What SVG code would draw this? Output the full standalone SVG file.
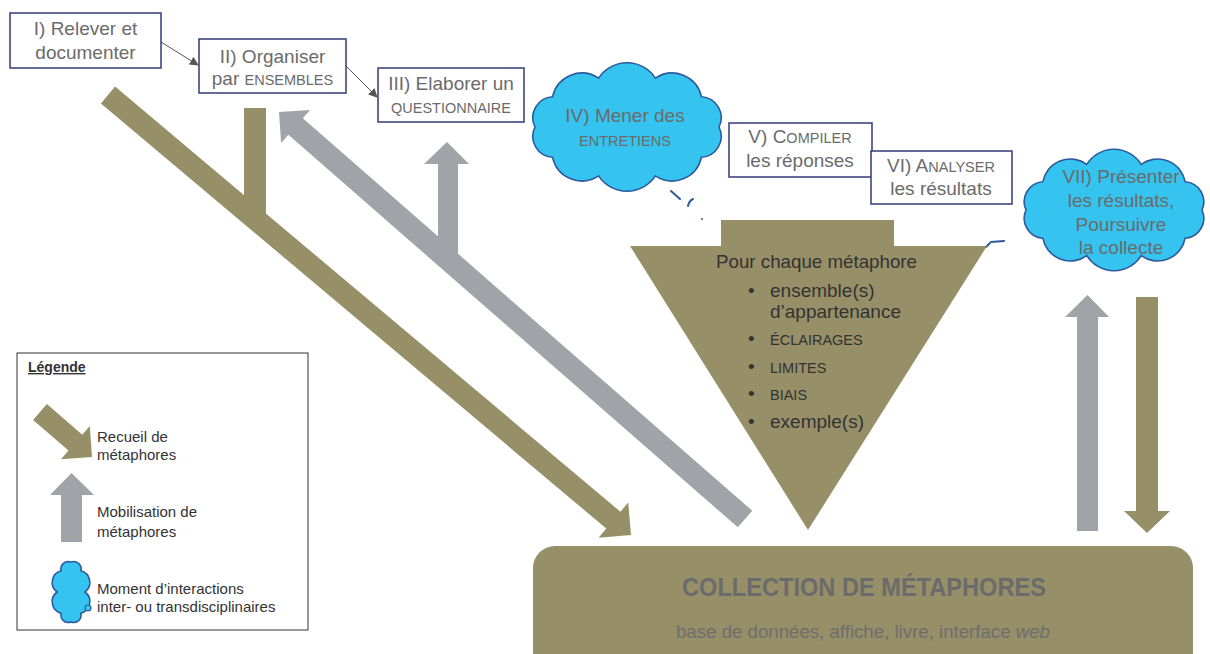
<svg xmlns="http://www.w3.org/2000/svg" width="1210" height="654" viewBox="0 0 1210 654">
<defs>
<style>
text{font-family:"Liberation Sans",Arial,sans-serif;}
.box{fill:#fff;stroke:#2f3b7a;stroke-width:1.5;}
.cloud{fill:#35c3ef;stroke:#2e5a9c;stroke-width:1.6;}
.t{font-size:19px;fill:#6b6b6b;text-anchor:middle;}
.olive{fill:#978f67;}
.grey{fill:#a0a3a8;}
.tri{font-size:19px;fill:#333;}
.leg{font-size:15px;fill:#333;}
.tail{fill:none;stroke:#2e5a9c;stroke-width:2;stroke-linecap:round;}
.conn{stroke:#555;stroke-width:1;fill:none;}
.sc{font-size:14.5px;}
</style>
<marker id="ah" viewBox="0 0 10 10" refX="9" refY="5" markerWidth="9" markerHeight="9" markerUnits="userSpaceOnUse" orient="auto"><path d="M0,0 L10,5 L0,10 Z" fill="#555"/></marker>
</defs>
<rect width="1210" height="654" fill="#fff"/>

<g id="connectors">
<line class="conn" x1="161" y1="42" x2="198" y2="65" marker-end="url(#ah)"/>
<line class="conn" x1="346" y1="66" x2="377" y2="97" marker-end="url(#ah)"/>
<path class="olive" d="M115.1,86.6 L620.5,511.8 L628.2,502.6 L631,535 L598.6,537.8 L606.3,528.6 L100.9,103.4 Z"/>
<rect class="olive" x="244" y="108" width="22" height="114"/>
<path class="grey" d="M279,112 L310.1,109.9 L302.8,118.2 L752.2,510.7 L737.8,527.3 L288.4,134.8 L281.1,143.1 Z"/>
<path class="grey" d="M447,142 L469,164 L458,164 L458,262 L438,262 L438,164 L424,164 Z"/>
<path class="grey" d="M1087.5,295 L1109,317 L1098,317 L1098,531 L1077,531 L1077,317 L1065,317 Z"/>
<path class="olive" d="M1136,297 L1158,297 L1158,511 L1170,511 L1147,533 L1124,511 L1136,511 Z"/>
<path class="tail" d="M671,191 L680,199"/>
<path class="tail" d="M688,206 Q689,201 693,199"/>
<circle cx="702" cy="219" r="1" fill="#2e5a9c"/>
<path class="tail" d="M991,242 L1004,241"/>
<path class="tail" d="M986,247 L990,243"/>
</g>

<g id="n1"><rect class="box" x="10" y="13" width="151" height="55"/>
<text class="t" x="85.5" y="35">I) Relever et</text>
<text class="t" x="85.5" y="59">documenter</text></g>

<g id="n2"><rect class="box" x="199" y="39" width="147" height="54"/>
<text class="t" x="272.5" y="63">II) Organiser</text>
<text class="t" x="272.5" y="85">par <tspan class="sc">ENSEMBLES</tspan></text></g>

<g id="n3"><rect class="box" x="378" y="68" width="146" height="54"/>
<text class="t" x="451" y="90">III) Elaborer un</text>
<text class="t sc" x="451" y="113">QUESTIONNAIRE</text></g>

<g id="n4"><path class="cloud" d="M719,127 A21,21 0 0 1 701.4,157.3 A30,30 0 0 1 655.4,175.9 A34,34 0 0 1 598.6,175.9 A30,30 0 0 1 552.6,157.3 A21,21 0 0 1 535,127 A21,21 0 0 1 552.6,96.7 A30,30 0 0 1 598.6,78.1 A34,34 0 0 1 655.4,78.1 A30,30 0 0 1 701.4,96.7 A21,21 0 0 1 719,127 Z"/>
<text class="t" x="625" y="122">IV) Mener des</text>
<text class="t sc" x="625" y="146">ENTRETIENS</text></g>

<g id="n5"><rect class="box" x="729" y="123" width="143" height="54"/>
<text class="t" x="800" y="143">V) C<tspan class="sc">OMPILER</tspan></text>
<text class="t" x="800" y="167">les réponses</text></g>

<g id="n6"><rect class="box" x="871" y="151" width="141" height="53"/>
<text class="t" x="941" y="172">VI) A<tspan class="sc">NALYSER</tspan></text>
<text class="t" x="941" y="195">les résultats</text></g>

<g id="n7"><path class="cloud" d="M1202,210 A20,20 0 0 1 1185.2,238.2 A28,28 0 0 1 1141.2,255.6 A32,32 0 0 1 1086.8,255.6 A28,28 0 0 1 1042.8,238.2 A20,20 0 0 1 1026,210 A20,20 0 0 1 1042.8,181.8 A28,28 0 0 1 1086.8,164.4 A32,32 0 0 1 1141.2,164.4 A28,28 0 0 1 1185.2,181.8 A20,20 0 0 1 1202,210 Z"/>
<text class="t" x="1121" y="183">VII) Présenter</text>
<text class="t" x="1121" y="207">les résultats,</text>
<text class="t" x="1121" y="231">Poursuivre</text>
<text class="t" x="1121" y="254">la collecte</text></g>

<g id="funnel"><path class="olive" d="M630,246 L721,246 L721,220 L894,220 L894,246 L987,246 L808,530 Z"/>
<text class="tri" x="716" y="268" textLength="201" lengthAdjust="spacingAndGlyphs">Pour chaque métaphore</text>
<text class="tri" x="748" y="297">•</text><text class="tri" x="770" y="297">ensemble(s)</text>
<text class="tri" x="770" y="318">d’appartenance</text>
<text class="tri" x="748" y="345">•</text><text class="tri sc" x="770" y="345">ÉCLAIRAGES</text>
<text class="tri" x="748" y="373">•</text><text class="tri sc" x="770" y="373">LIMITES</text>
<text class="tri" x="748" y="400">•</text><text class="tri sc" x="770" y="400">BIAIS</text>
<text class="tri" x="748" y="428">•</text><text class="tri" x="770" y="428">exemple(s)</text></g>

<g id="collection"><rect class="olive" x="533" y="546" width="660" height="130" rx="22"/>
<text x="864" y="596" font-size="25" font-weight="bold" fill="#6b6b6b" text-anchor="middle" textLength="364" lengthAdjust="spacingAndGlyphs">COLLECTION DE MÉTAPHORES</text>
<text x="863" y="638" font-size="18" fill="#6e6e6e" text-anchor="middle" textLength="374" lengthAdjust="spacingAndGlyphs">base de données, affiche, livre, interface <tspan font-style="italic">web</tspan></text></g>

<g id="legend"><rect x="17" y="353" width="291" height="277" fill="#fff" stroke="#333" stroke-width="1"/>
<text x="28" y="372" font-size="14" font-weight="bold" fill="#333" text-decoration="underline">Légende</text>
<path class="olive" d="M46.9,404.1 L82.3,434.7 L89.8,426 L92,457 L61,459.2 L68.5,450.5 L33.1,419.9 Z"/>
<text class="leg" x="97" y="442">Recueil de</text>
<text class="leg" x="97" y="460">métaphores</text>
<path class="grey" d="M71.5,473 L94,495 L82,495 L82,542 L61,542 L61,495 L50,495 Z"/>
<text class="leg" x="97" y="517">Mobilisation de</text>
<text class="leg" x="97" y="537">métaphores</text>
<path class="cloud" d="M85,592 A12,12 0 0 1 80.9,613.2 A7.5,7.5 0 0 1 71,622 A7.5,7.5 0 0 1 61.1,613.2 A12,12 0 0 1 57,592 A12,12 0 0 1 61.1,570.8 A7.5,7.5 0 0 1 71,562 A7.5,7.5 0 0 1 80.9,570.8 A12,12 0 0 1 85,592 Z"/>
<circle cx="88" cy="608" r="3" fill="#35c3ef" stroke="#2e5a9c" stroke-width="1.2"/>
<text class="leg" x="97" y="594">Moment d’interactions</text>
<text class="leg" x="97" y="612">inter- ou transdisciplinaires</text></g>
</svg>
